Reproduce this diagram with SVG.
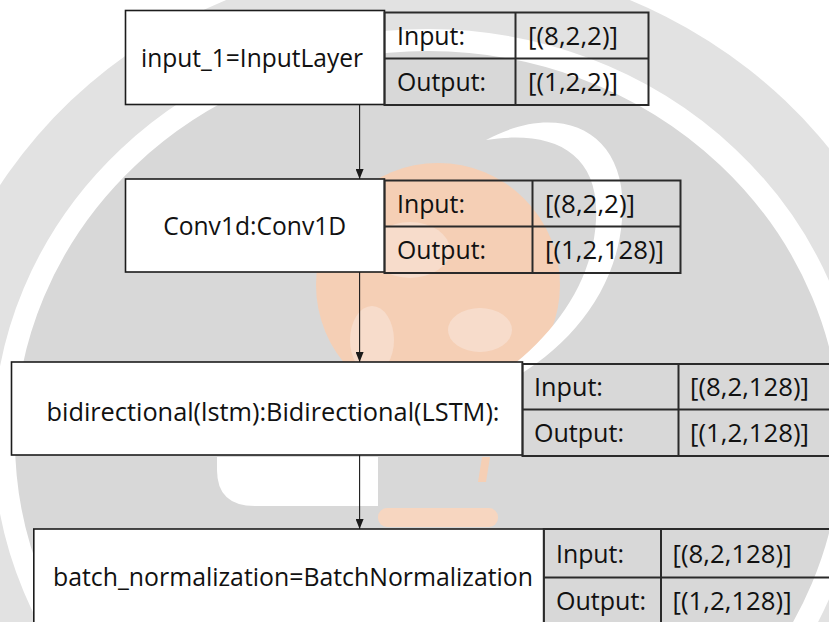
<svg xmlns="http://www.w3.org/2000/svg" width="829" height="622" viewBox="0 0 829 622">
  <defs>
    <style>
      .box { fill: #ffffff; stroke: #1c1c1c; stroke-width: 1.6; }
      .tbl { fill: none; stroke: #2a2a2a; stroke-width: 2; }
      .tline { stroke: #2a2a2a; stroke-width: 2; }
      .t { font-family: "Open Sans", "Noto Sans", "DejaVu Sans", sans-serif; font-size: 25.5px; fill: #111111; }
      .mid { text-anchor: middle; }
      .edge { stroke: #1a1a1a; stroke-width: 1.1; fill: none; marker-end: url(#arrow); }
    </style>
    <marker id="arrow" markerUnits="userSpaceOnUse" markerWidth="10" markerHeight="8" refX="10" refY="4" orient="auto">
      <path d="M0,0 L10,4 L0,8 Z" fill="#1a1a1a"/>
    </marker>
  </defs>

  <!-- faint seal in the background -->
  <g id="backdrop">
    <rect x="0" y="0" width="829" height="622" fill="#ffffff"/>
    <ellipse cx="428" cy="440" rx="505" ry="480" fill="#e2e2e2"/>
    <ellipse cx="428" cy="440" rx="424" ry="400" fill="#d8d8d8" stroke="#ffffff" stroke-width="22"/>
    <circle cx="438" cy="285" r="122" fill="#f5cfb5"/>
    <ellipse cx="410" cy="250" rx="40" ry="28" fill="#f7dccb"/>
    <ellipse cx="480" cy="330" rx="32" ry="22" fill="#f7dccb"/>
    <ellipse cx="372" cy="340" rx="22" ry="34" fill="#f7dccb"/>
    <path d="M486 140 C560 100 630 130 622 220 C615 310 540 380 450 405 C530 365 592 300 596 220 C600 150 550 130 486 140 Z" fill="#ffffff"/>
    <path d="M217 457 L378 457 L378 506 L255 506 Q217 506 217 470 Z" fill="#ffffff"/>
    <path d="M482 457 L490 457 L486 482 L478 482 Z" fill="#f5cfb5"/>
    <rect x="378" y="508" width="120" height="19" rx="9" fill="#f7d6c0"/>
  </g>

  <!-- connectors -->
  <g id="connectors">
    <line class="edge" x1="359.6" y1="105" x2="359.6" y2="179"/>
    <line class="edge" x1="359.6" y1="272" x2="359.6" y2="362"/>
    <line class="edge" x1="359.6" y1="455" x2="359.6" y2="529"/>
  </g>

  <!-- input layer -->
  <g id="node-input">
    <rect class="box" x="125.5" y="10.5" width="259" height="94"/>
    <text class="t mid" x="252" y="66.5" textLength="222" lengthAdjust="spacingAndGlyphs">input_1=InputLayer</text>
    <rect class="tbl" x="384.5" y="12.5" width="264" height="92.5"/>
    <line class="tline" x1="515.5" y1="12.5" x2="515.5" y2="105"/>
    <line class="tline" x1="384.5" y1="58.5" x2="648.5" y2="58.5"/>
    <text class="t" x="397" y="44.5" textLength="68" lengthAdjust="spacingAndGlyphs">Input:</text>
    <text class="t" x="528" y="44.5" textLength="90" lengthAdjust="spacingAndGlyphs">[(8,2,2)]</text>
    <text class="t" x="397" y="90.5" textLength="89" lengthAdjust="spacingAndGlyphs">Output:</text>
    <text class="t" x="528" y="90.5" textLength="90" lengthAdjust="spacingAndGlyphs">[(1,2,2)]</text>
  </g>

  <!-- conv1d layer -->
  <g id="node-conv1d">
    <rect class="box" x="125.5" y="179" width="259" height="93"/>
    <text class="t mid" x="254.7" y="235" textLength="183" lengthAdjust="spacingAndGlyphs">Conv1d:Conv1D</text>
    <rect class="tbl" x="384.5" y="180.5" width="296" height="92.5"/>
    <line class="tline" x1="532.5" y1="180.5" x2="532.5" y2="273"/>
    <line class="tline" x1="384.5" y1="226.5" x2="680.5" y2="226.5"/>
    <text class="t" x="397" y="212.5" textLength="68" lengthAdjust="spacingAndGlyphs">Input:</text>
    <text class="t" x="545" y="212.5" textLength="90" lengthAdjust="spacingAndGlyphs">[(8,2,2)]</text>
    <text class="t" x="397" y="258.5" textLength="89" lengthAdjust="spacingAndGlyphs">Output:</text>
    <text class="t" x="545" y="258.5" textLength="119" lengthAdjust="spacingAndGlyphs">[(1,2,128)]</text>
  </g>

  <!-- bidirectional lstm layer -->
  <g id="node-bilstm">
    <rect class="box" x="11.5" y="362" width="511" height="93"/>
    <text class="t mid" x="273" y="421" textLength="453" lengthAdjust="spacingAndGlyphs">bidirectional(lstm):Bidirectional(LSTM):</text>
    <rect class="tbl" x="522.5" y="364" width="330" height="92"/>
    <line class="tline" x1="678.5" y1="364" x2="678.5" y2="456"/>
    <line class="tline" x1="522.5" y1="409.5" x2="852" y2="409.5"/>
    <text class="t" x="534" y="396" textLength="69" lengthAdjust="spacingAndGlyphs">Input:</text>
    <text class="t" x="690" y="396" textLength="119" lengthAdjust="spacingAndGlyphs">[(8,2,128)]</text>
    <text class="t" x="534" y="442" textLength="90" lengthAdjust="spacingAndGlyphs">Output:</text>
    <text class="t" x="690" y="442" textLength="119" lengthAdjust="spacingAndGlyphs">[(1,2,128)]</text>
  </g>

  <!-- batch normalization layer -->
  <g id="node-batchnorm">
    <rect class="box" x="33.8" y="529" width="510" height="110"/>
    <text class="t mid" x="293" y="586" textLength="480" lengthAdjust="spacingAndGlyphs">batch_normalization=BatchNormalization</text>
    <rect class="tbl" x="543.8" y="529" width="310" height="110"/>
    <line class="tline" x1="661" y1="529" x2="661" y2="639"/>
    <line class="tline" x1="543.8" y1="577.4" x2="854" y2="577.4"/>
    <text class="t" x="556" y="563" textLength="68" lengthAdjust="spacingAndGlyphs">Input:</text>
    <text class="t" x="672.6" y="563" textLength="119" lengthAdjust="spacingAndGlyphs">[(8,2,128)]</text>
    <text class="t" x="556" y="610" textLength="90" lengthAdjust="spacingAndGlyphs">Output:</text>
    <text class="t" x="672.6" y="610" textLength="119" lengthAdjust="spacingAndGlyphs">[(1,2,128)]</text>
  </g>
</svg>
